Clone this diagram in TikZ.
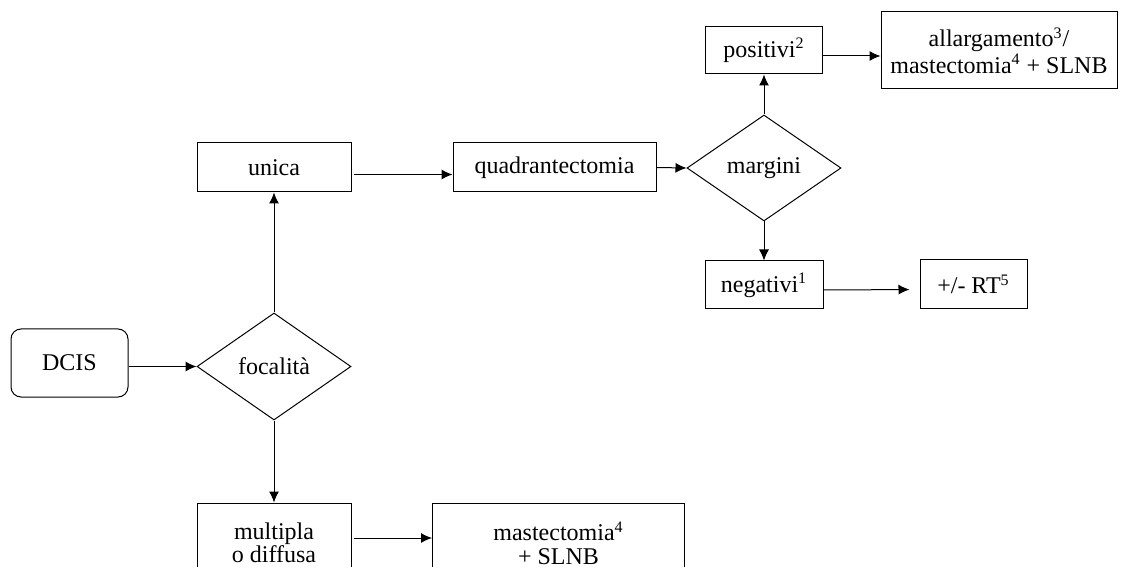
\documentclass[tikz,border=0pt]{standalone}
\usepackage{fontspec}
\setmainfont{Liberation Serif}
\usetikzlibrary{shapes.geometric,arrows.meta}
\begin{document}
\begin{tikzpicture}[x=0.5pt,y=-0.5pt,
  every node/.style={font=\fontsize{12}{11.7}\selectfont, text=black},
  box/.style={draw, line width=0.5pt, inner sep=0pt, align=center},
  dia/.style={draw, diamond, line width=0.5pt, inner sep=0pt, aspect=1.44},
  arr/.style={line width=0.5pt, -{Latex[length=5.5pt,width=5pt]}}]
\useasboundingbox (0,0) rectangle (1121,567);
\clip (0,0) rectangle (1121,567);

\node[box, rounded corners=5pt, minimum width=58.5pt, minimum height=34pt] (dcis) at (69.5,363) {DCIS};
\node[dia, minimum width=77pt, minimum height=53.5pt] (focal) at (274,366.5) {focalità};
\node[box, minimum width=77pt, minimum height=24.5pt] (unica) at (274,167.5) {unica};
\node[box, minimum width=101.5pt, minimum height=24.5pt] (quad) at (554.5,167.5) {quadrantectomia};
\node[dia, minimum width=77pt, minimum height=53pt] (margini) at (764,168) {margini};
\node[box, minimum width=58.5pt, minimum height=23.5pt] (pos) at (764,50.5) {positivi\textsuperscript{2}};
\node[box, minimum width=118pt, minimum height=38.5pt] (allarg) at (999,50.5) {allargamento\textsuperscript{3}/\\mastectomia\textsuperscript{4} + SLNB};
\node[box, minimum width=59pt, minimum height=24pt] (neg) at (764,285) {negativi\textsuperscript{1}};
\node[box, minimum width=53.5pt, minimum height=24.5pt] (rt) at (973.5,284.5) {+/- RT\textsuperscript{5}};
\node[box, minimum width=77pt, minimum height=40pt] (multi) at (274,543) {multipla\\o diffusa};
\node[box, minimum width=126pt, minimum height=40pt] (mast) at (558.5,543) {mastectomia\textsuperscript{4}\\+ SLNB};

\draw[arr] (dcis.east |- focal.west) -- (focal.west);
\draw[arr] (focal.north) -- (unica.south);
\draw[arr] (focal.south) -- (multi.north);
\draw[arr] ([xshift=1pt,yshift=-3.5pt]unica.east) -- ([yshift=-3.5pt]quad.west);
\draw[arr] (quad.east) -- (margini.west);
\draw[arr] (margini.north) -- (pos.south);
\draw[arr] (margini.south) -- (neg.north);
\draw[arr] ([yshift=-2.75pt]pos.east) -- ([yshift=-2.75pt]allarg.west);
\draw[arr, shorten >=5pt] ([yshift=-2.5pt]neg.east) -- ([yshift=-2.5pt]rt.west);
\draw[arr] ([xshift=1pt,yshift=2.5pt]multi.east) -- ([yshift=2.5pt]mast.west);
\end{tikzpicture}
\end{document}
